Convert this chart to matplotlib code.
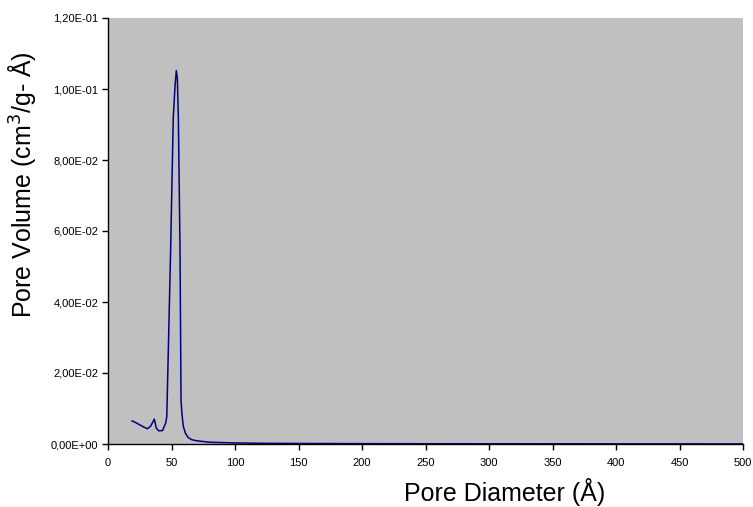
import matplotlib
matplotlib.use("Agg")
import matplotlib.pyplot as plt
from matplotlib.ticker import FuncFormatter, MultipleLocator

plt.rcParams['font.family'] = ['Liberation Sans', 'DejaVu Sans']

# pore size distribution
diameter = [19, 22, 25, 28, 31, 33.5, 36.5, 38, 40, 43, 45.5, 46.3,
            49.3, 51.4, 52.8, 53.8, 54.6, 55.4, 56.7, 57.5, 58.2, 59.3,
            61, 63.2, 66, 70, 75, 80, 90, 100, 120, 150, 200, 250,
            300, 350, 400, 450, 500]
volume = [0.0065, 0.0060, 0.0054, 0.0048, 0.0043, 0.0050, 0.0070, 0.0045,
          0.0037, 0.0038, 0.0060, 0.0078,
          0.0546, 0.0920, 0.1010, 0.1052, 0.1030, 0.0920, 0.0550, 0.0124,
          0.0085, 0.0050,
          0.0030, 0.0018, 0.0012, 0.0009, 0.0007, 0.0005, 0.0004, 0.0003,
          0.0002, 0.00015, 0.0001, 0.00008,
          0.00006, 0.00005, 0.00004, 0.00003, 0.00002]

x_ticks = list(range(0, 501, 50))


def sci_comma(v, pos):
    s = "%.2E" % v
    return s.replace(".", ",")


fig = plt.figure(figsize=(7.53, 5.07), dpi=100)
ax = fig.add_axes([108 / 753, 63 / 507, 635 / 753, 426 / 507])
ax.set_facecolor("#c0c0c0")

ax.plot(diameter, volume, color="#000080", linewidth=1.1)

ax.set_xlim(0, 500)
ax.set_ylim(0, 0.12)
ax.set_xticks(x_ticks)
ax.yaxis.set_major_locator(MultipleLocator(0.02))
ax.yaxis.set_major_formatter(FuncFormatter(sci_comma))

for side in ["top", "right"]:
    ax.spines[side].set_visible(False)
for side in ["left", "bottom"]:
    ax.spines[side].set_color("black")
    ax.spines[side].set_linewidth(1.0)

ax.tick_params(axis="both", direction="out", length=4, width=1,
               labelsize=8, pad=3)
ax.tick_params(axis="x", pad=6)

ax.set_xlabel("Pore Diameter (Å)", fontsize=18)
ax.set_ylabel("Pore Volume (cm$^3$/g- Å)", fontsize=18)
ax.xaxis.set_label_coords(0.625, -0.08)
ax.yaxis.set_label_coords(-0.11, 0.608)

fig.savefig("out.png", dpi=100)
